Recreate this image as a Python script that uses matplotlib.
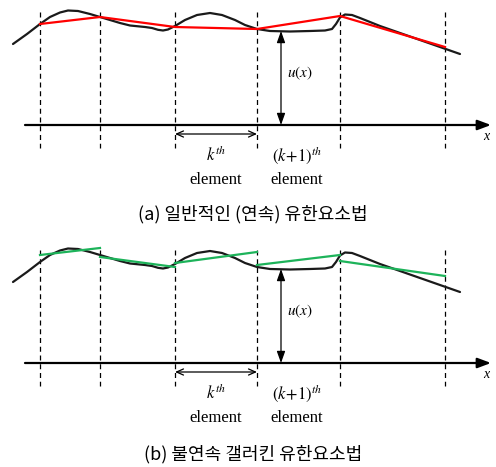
import matplotlib.pyplot as plt

plt.rcParams['mathtext.fontset'] = 'stix'

# element boundaries (x) and the exact solution u(x), drawn in pixel-like units
nodes = [40, 100, 175, 257, 340, 445]
curve_x = [13, 27, 40, 50, 60, 68, 78, 90, 100, 110, 120, 130, 145, 152, 158, 163, 168, 175,
           185, 197, 210, 222, 235, 245, 257, 270, 290, 310, 325, 332, 336, 340, 345, 352,
           360, 380, 420, 460]
curve_y = [44, 34, 24, 17, 12.5, 10.5, 11, 14, 17, 20, 23, 25.5, 27, 28, 29.8, 30.5, 29.5, 26,
           20, 15, 13, 15, 20, 25, 29, 31, 31.5, 31, 30.5, 29, 24, 17.5, 14.5, 15,
           18, 26, 40, 54]

# continuous FEM: one value per node
fem_y = [24, 17, 27, 29, 16, 47]
# discontinuous Galerkin: left/right value on every element
dg_left = [255, 257, 263, 265, 261]
dg_right = [248, 267, 252, 255, 276]

captions = ["(a) 일반적인 (연속) 유한요소법", "(b) 불연속 갤러킨 유한요소법"]
caption_y = [214, 454]
offsets = [0, 238]

fig = plt.figure(figsize=(4.96, 4.67), dpi=100)
ax = fig.add_axes([0, 0, 1, 1])
ax.set_xlim(0, 496)
ax.set_ylim(467, 0)
ax.axis('off')

serif = ['Liberation Serif', 'DejaVu Serif']

for i, off in enumerate(offsets):
    axis_y = 125 + off
    # dashed element boundaries
    for xn in nodes:
        ax.plot([xn, xn], [12 + off, 148 + off], color='black', lw=0.9, ls=(0, (4, 3)))
    # x axis with arrow
    ax.annotate('', xy=(491, axis_y), xytext=(25, axis_y),
                arrowprops=dict(arrowstyle='-|>,head_length=0.8,head_width=0.3',
                                color='black', lw=1.6, shrinkA=0, shrinkB=0))
    ax.text(486, axis_y + 12, 'x', fontsize=10, family=serif, style='italic',
            ha='center', va='center')

    # exact solution
    ax.plot(curve_x, [y + off for y in curve_y], color='#1a1a1a', lw=1.6,
            solid_capstyle='round')

    if i == 0:
        ax.plot(nodes, fem_y, color='#ff0000', lw=1.6)
    else:
        for k in range(len(nodes) - 1):
            ax.plot([nodes[k], nodes[k + 1]], [dg_left[k], dg_right[k]],
                    color='#1db35a', lw=1.6)

    # u(x) arrow
    ax.annotate('', xy=(281, 31 + off), xytext=(281, axis_y),
                arrowprops=dict(arrowstyle='<|-|>,head_length=0.7,head_width=0.25',
                                color='black', lw=0.9, shrinkA=0, shrinkB=0))
    ax.text(300, 73 + off, r'$u(x)$', fontsize=11, ha='center', va='center')

    # k-th element span
    ax.annotate('', xy=(175, 134 + off), xytext=(257, 134 + off),
                arrowprops=dict(arrowstyle='<->,head_length=0.5,head_width=0.22',
                                color='black', lw=0.9, shrinkA=0, shrinkB=0))
    ax.text(216, 155 + off, r'$k^{th}$', fontsize=12, ha='center', va='center')
    ax.text(216, 180 + off, 'element', fontsize=12, family=serif, ha='center', va='center')
    ax.text(297, 155 + off, r'$(k\!+\!1)^{th}$', fontsize=12, ha='center', va='center')
    ax.text(297, 180 + off, 'element', fontsize=12, family=serif, ha='center', va='center')

    ax.text(253, caption_y[i], captions[i], fontsize=13,
            family=['Noto Sans CJK KR', 'DejaVu Sans'], ha='center', va='center')

fig.savefig('out.png', dpi=100)
